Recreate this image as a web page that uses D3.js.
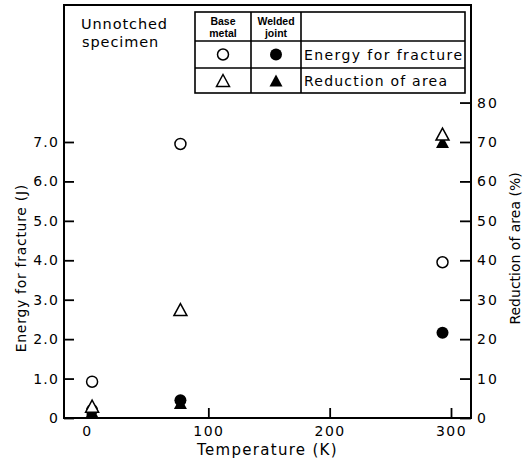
<!DOCTYPE html>
<html>
<head>
<meta charset="utf-8">
<script src="https://cdn.jsdelivr.net/npm/d3@7"></script>
<style>
  html, body { margin: 0; padding: 0; background: #fff; }
  svg { display: block; font-family: "DejaVu Sans", sans-serif; }
</style>
</head>
<body>
<svg id="chart" width="528" height="463"></svg>
<script>
// Test temperatures (K)
const temperatures = [4.2, 77, 293];
// Energy for fracture (J)
const baseMetalEnergy = [0.92, 6.95, 3.95];
const weldedJointEnergy = [0.2, 0.45, 2.16];
// Reduction of area (%)
const baseMetalReduction = [3, 27.5, 72];
const weldedJointReduction = [1.5, 3.8, 70];

// Axis ticks
const tempTicks = [0, 100, 200, 300];
const energyTicks = [0, 1, 2, 3, 4, 5, 6, 7];
const reductionTicks = [0, 10, 20, 30, 40, 50, 60, 70, 80];

const svg = d3.select("#chart");
const frame = { left: 64, right: 471, top: 5, bottom: 418 };
const unit = 39.43; // pixels per 1 J (= 10 %)

const x = d3.scaleLinear().domain([0, 300]).range([87, 451]);
const yE = d3.scaleLinear().domain([0, 7]).range([frame.bottom, frame.bottom - 7 * unit]);
const yR = d3.scaleLinear().domain([0, 80]).range([frame.bottom, frame.bottom - 8 * unit]);

// Plot frame
svg.append("rect")
  .attr("x", frame.left).attr("y", frame.top)
  .attr("width", frame.right - frame.left).attr("height", frame.bottom - frame.top)
  .attr("fill", "none").attr("stroke", "#000").attr("stroke-width", 2);

function styleAxis(g, spacing) {
  g.select(".domain").remove();
  g.selectAll(".tick line").attr("stroke", "#000").attr("stroke-width", 1.8);
  g.selectAll(".tick text")
    .attr("fill", "#000")
    .style("font-family", "DejaVu Sans, sans-serif")
    .style("font-size", "14px")
    .style("letter-spacing", spacing);
}

// Left axis: energy
svg.append("g")
  .attr("transform", `translate(${frame.left},0)`)
  .call(d3.axisLeft(yE).tickValues(energyTicks)
    .tickFormat(d => d === 0 ? "0" : d3.format(".1f")(d))
    .tickSizeInner(-10).tickSizeOuter(0).tickPadding(5))
  .call(styleAxis, "1.2px");

// Right axis: reduction of area
svg.append("g")
  .attr("transform", `translate(${frame.right},0)`)
  .call(d3.axisRight(yR).tickValues(reductionTicks)
    .tickFormat(d3.format("d"))
    .tickSizeInner(-11).tickSizeOuter(0).tickPadding(6))
  .call(styleAxis, "2px");

// Bottom axis: temperature
svg.append("g")
  .attr("transform", `translate(0,${frame.bottom})`)
  .call(d3.axisBottom(x).tickValues(tempTicks)
    .tickFormat(d3.format("d"))
    .tickSizeInner(-10).tickSizeOuter(0).tickPadding(8))
  .call(styleAxis, "1.5px");

// Axis titles
svg.append("text")
  .attr("x", (frame.left + frame.right) / 2).attr("y", 455)
  .attr("text-anchor", "middle")
  .style("font-size", "15px").style("letter-spacing", "1.3px")
  .text("Temperature (K)");

svg.append("text")
  .attr("transform", `translate(26,${yE(3.8)}) rotate(-90)`)
  .attr("text-anchor", "middle")
  .style("font-size", "14px").style("letter-spacing", "0.7px")
  .text("Energy for fracture (J)");

svg.append("text")
  .attr("transform", `translate(520,${yR(43)}) rotate(-90)`)
  .attr("text-anchor", "middle")
  .style("font-size", "14px")
  .text("Reduction of area (%)");

// Markers
const r = 6;
function triPath(cx, cy) {
  return `M${cx},${cy - 6}L${cx + 6.5},${cy + 6}L${cx - 6.5},${cy + 6}Z`;
}
const marks = svg.append("g");

marks.selectAll(".wtri").data(temperatures).join("path")
  .attr("d", (t, i) => triPath(x(t), yR(weldedJointReduction[i])))
  .attr("fill", "#000");

marks.selectAll(".wcirc").data(temperatures).join("circle")
  .attr("cx", t => x(t)).attr("cy", (t, i) => yE(weldedJointEnergy[i]))
  .attr("r", r).attr("fill", "#000");

marks.selectAll(".btri").data(temperatures).join("path")
  .attr("d", (t, i) => triPath(x(t), yR(baseMetalReduction[i])))
  .attr("fill", "#fff").attr("stroke", "#000").attr("stroke-width", 1.5);

marks.selectAll(".bcirc").data(temperatures).join("circle")
  .attr("cx", t => x(t)).attr("cy", (t, i) => yE(baseMetalEnergy[i]))
  .attr("r", 5.5).attr("fill", "#fff").attr("stroke", "#000").attr("stroke-width", 1.5);

// Specimen note
const note = svg.append("g").style("font-size", "14.5px").style("letter-spacing", "0.9px");
note.append("text").attr("x", 81).attr("y", 29).text("Unnotched");
note.append("text").attr("x", 82).attr("y", 47).text("specimen");

// Legend table
const cols = [195, 251, 301, 465];
const rows = [12, 41, 68, 93];
const legend = svg.append("g");
legend.append("rect")
  .attr("x", cols[0]).attr("y", rows[0])
  .attr("width", cols[3] - cols[0]).attr("height", rows[3] - rows[0])
  .attr("fill", "#fff").attr("stroke", "#000").attr("stroke-width", 1.6);
[cols[1], cols[2]].forEach(cx => legend.append("line")
  .attr("x1", cx).attr("x2", cx).attr("y1", rows[0]).attr("y2", rows[3])
  .attr("stroke", "#000").attr("stroke-width", 1.6));
[rows[1], rows[2]].forEach(ry => legend.append("line")
  .attr("x1", cols[0]).attr("x2", cols[3]).attr("y1", ry).attr("y2", ry)
  .attr("stroke", "#000").attr("stroke-width", 1.6));

const headers = [["Base", "metal"], ["Welded", "joint"]];
headers.forEach((h, i) => {
  const cx = (cols[i] + cols[i + 1]) / 2;
  const g = legend.append("g")
    .attr("text-anchor", "middle")
    .style("font-family", "Liberation Sans, Arial, sans-serif")
    .style("font-weight", "bold").style("font-size", "10.5px");
  g.append("text").attr("x", cx).attr("y", 25).text(h[0]);
  g.append("text").attr("x", cx).attr("y", 37).text(h[1]);
});

const c1 = (cols[0] + cols[1]) / 2, c2 = (cols[1] + cols[2]) / 2;
const m1 = (rows[1] + rows[2]) / 2, m2 = (rows[2] + rows[3]) / 2;
legend.append("circle").attr("cx", c1).attr("cy", m1).attr("r", 5.5)
  .attr("fill", "#fff").attr("stroke", "#000").attr("stroke-width", 1.5);
legend.append("circle").attr("cx", c2).attr("cy", m1).attr("r", r).attr("fill", "#000");
legend.append("path").attr("d", triPath(c1, m2))
  .attr("fill", "#fff").attr("stroke", "#000").attr("stroke-width", 1.5);
legend.append("path").attr("d", triPath(c2, m2)).attr("fill", "#000");

legend.append("text").attr("x", cols[2] + 3).attr("y", 60)
  .attr("textLength", 158).attr("lengthAdjust", "spacing")
  .style("font-size", "14px").text("Energy for fracture");
legend.append("text").attr("x", cols[2] + 3).attr("y", 86)
  .attr("textLength", 143).attr("lengthAdjust", "spacing")
  .style("font-size", "14px").text("Reduction of area");
</script>
</body>
</html>
